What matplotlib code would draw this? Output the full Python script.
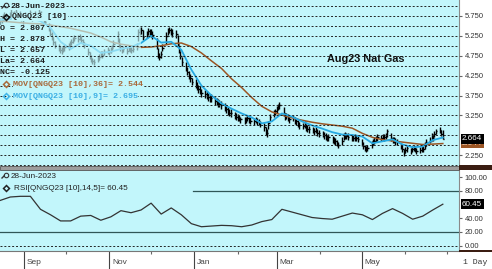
import pandas as pd
import matplotlib
matplotlib.use("Agg")
from matplotlib import pyplot as plt
from matplotlib import ticker
from matplotlib.patches import Rectangle
from matplotlib.lines import Line2D

plt.rcParams["font.family"] = ["Liberation Sans", "DejaVu Sans"]

W, H = 492, 269
BG = "#c2f6fb"
BROWN = "#9b5524"
CYAN = "#27a9e1"
MONO = "Liberation Mono"

# daily bars Aug 15 2022 -> Jun 28 2023, one row per month
close = [
    5.62, 5.68, 5.72, 5.75, 5.70, 5.78, 5.82, 5.74, 5.80, 5.85, 5.78, 5.70, 5.66,
    5.72, 5.78, 5.80, 5.76, 5.70, 5.74, 5.80, 5.85, 5.78, 5.72, 5.66, 5.60, 5.42, 5.30, 5.22, 5.10, 5.02, 4.95, 4.90, 4.88, 4.92, 4.96,
    4.98, 5.05, 5.10, 5.15, 5.20, 5.18, 5.22, 5.15, 5.10, 5.02, 4.85, 4.75, 4.68, 4.62, 4.60, 4.65, 4.72, 4.80, 4.78, 4.85, 4.88,
    4.85, 4.90, 4.95, 5.05, 5.30, 5.05, 4.95, 4.90, 4.92, 4.88, 4.95, 4.92, 4.90, 4.93, 4.98, 5.35, 5.38, 5.40, 5.22, 5.30, 5.36, 5.33,
    5.32, 5.28, 5.00, 4.80, 4.72, 4.80, 4.95, 5.25, 5.35, 5.40, 5.36, 5.32, 5.30, 5.05, 4.90, 4.75, 4.60, 4.45, 4.35, 4.25, 4.18, 4.10,
    4.05, 3.98, 3.92, 3.88, 3.82, 3.78, 3.75, 3.72, 3.70, 3.68, 3.62, 3.60, 3.56, 3.55, 3.52, 3.45, 3.40, 3.36, 3.32, 3.30, 3.25, 3.22,
    3.20, 3.18, 3.15, 3.12, 3.15, 3.18, 3.14, 3.12, 3.10, 3.14, 3.10, 3.08, 3.05, 2.95, 2.85, 2.80, 3.05, 3.20, 3.30, 3.35,
    3.40, 3.48, 3.50, 3.30, 3.22, 3.25, 3.20, 3.15, 3.18, 3.12, 3.10, 3.05, 3.00, 2.98, 3.02, 2.95, 2.92, 2.90, 2.88, 2.85, 2.88, 2.82, 2.80,
    2.78, 2.75, 2.72, 2.68, 2.70, 2.65, 2.62, 2.60, 2.55, 2.50, 2.62, 2.72, 2.75, 2.74, 2.72, 2.70, 2.68, 2.70, 2.68, 2.66,
    2.55, 2.48, 2.42, 2.40, 2.44, 2.52, 2.58, 2.62, 2.66, 2.70, 2.68, 2.72, 2.70, 2.74, 2.85, 2.68, 2.62, 2.65, 2.60, 2.58, 2.48, 2.40, 2.30,
    2.38, 2.42, 2.36, 2.40, 2.44, 2.40, 2.36, 2.38, 2.42, 2.40, 2.48, 2.58, 2.62, 2.72, 2.68, 2.78, 2.85, 2.88, 2.789, 2.664,
]
high = [
    5.70, 5.75, 5.80, 5.84, 5.79, 5.86, 5.92, 5.85, 5.88, 5.95, 5.88, 5.80, 5.74,
    5.80, 5.86, 5.90, 5.84, 5.78, 5.82, 5.88, 5.94, 5.88, 5.80, 5.74, 5.68, 5.58, 5.42, 5.34, 5.22, 5.12, 5.05, 5.00, 4.97, 5.00, 5.05,
    5.06, 5.12, 5.18, 5.22, 5.28, 5.26, 5.30, 5.24, 5.18, 5.10, 4.95, 4.84, 4.76, 4.70, 4.68, 4.74, 4.80, 4.88, 4.86, 4.92, 4.96,
    4.93, 4.98, 5.03, 5.14, 5.36, 5.20, 5.04, 4.98, 5.00, 4.96, 5.03, 5.00, 4.98, 5.01, 5.08, 5.42, 5.46, 5.48, 5.40, 5.38, 5.44, 5.42,
    5.42, 5.38, 5.20, 4.95, 4.82, 4.88, 5.04, 5.34, 5.44, 5.48, 5.45, 5.42, 5.40, 5.28, 5.02, 4.86, 4.72, 4.58, 4.46, 4.36, 4.28, 4.20,
    4.16, 4.08, 4.02, 3.98, 3.92, 3.88, 3.86, 3.82, 3.80, 3.78, 3.72, 3.70, 3.66, 3.64, 3.62, 3.56, 3.50, 3.46, 3.42, 3.40, 3.34, 3.32,
    3.28, 3.26, 3.22, 3.20, 3.22, 3.25, 3.22, 3.20, 3.18, 3.22, 3.18, 3.16, 3.12, 3.06, 2.95, 2.92, 3.12, 3.28, 3.38, 3.42,
    3.48, 3.55, 3.58, 3.45, 3.32, 3.32, 3.28, 3.24, 3.25, 3.20, 3.18, 3.14, 3.08, 3.06, 3.10, 3.04, 3.00, 2.98, 2.96, 2.94, 2.96, 2.92, 2.88,
    2.86, 2.84, 2.80, 2.76, 2.78, 2.74, 2.70, 2.68, 2.64, 2.58, 2.70, 2.80, 2.84, 2.82, 2.80, 2.78, 2.76, 2.78, 2.76, 2.74,
    2.66, 2.58, 2.50, 2.47, 2.50, 2.60, 2.66, 2.70, 2.73, 2.78, 2.76, 2.79, 2.78, 2.82, 2.92, 2.82, 2.70, 2.72, 2.68, 2.66, 2.57, 2.50, 2.40,
    2.46, 2.50, 2.44, 2.48, 2.52, 2.48, 2.44, 2.46, 2.50, 2.48, 2.58, 2.66, 2.70, 2.80, 2.78, 2.86, 2.92, 2.96, 2.88, 2.878,
]
low = [
    5.52, 5.58, 5.63, 5.66, 5.62, 5.68, 5.74, 5.66, 5.70, 5.76, 5.68, 5.62, 5.55,
    5.64, 5.70, 5.72, 5.68, 5.62, 5.66, 5.72, 5.76, 5.70, 5.64, 5.58, 5.50, 5.36, 5.24, 5.14, 5.02, 4.94, 4.87, 4.82, 4.80, 4.84, 4.88,
    4.90, 4.97, 5.02, 5.07, 5.12, 5.10, 5.14, 5.07, 5.02, 4.94, 4.78, 4.67, 4.60, 4.55, 4.52, 4.58, 4.64, 4.72, 4.70, 4.77, 4.80,
    4.77, 4.82, 4.87, 4.96, 5.10, 4.98, 4.87, 4.82, 4.84, 4.80, 4.87, 4.84, 4.82, 4.85, 4.90, 5.12, 5.28, 5.30, 5.15, 5.20, 5.26, 5.24,
    5.22, 5.18, 4.92, 4.70, 4.64, 4.70, 4.86, 5.05, 5.26, 5.31, 5.28, 5.23, 5.20, 5.00, 4.82, 4.66, 4.50, 4.36, 4.26, 4.16, 4.09, 4.02,
    3.94, 3.88, 3.82, 3.78, 3.72, 3.68, 3.66, 3.62, 3.60, 3.58, 3.52, 3.50, 3.46, 3.45, 3.42, 3.36, 3.31, 3.27, 3.23, 3.21, 3.16, 3.13,
    3.12, 3.10, 3.07, 3.04, 3.07, 3.10, 3.06, 3.04, 3.02, 3.06, 3.02, 3.00, 2.96, 2.86, 2.76, 2.72, 2.90, 3.10, 3.22, 3.27,
    3.32, 3.38, 3.40, 3.24, 3.14, 3.16, 3.12, 3.07, 3.10, 3.04, 3.02, 2.97, 2.92, 2.90, 2.94, 2.87, 2.84, 2.82, 2.80, 2.77, 2.80, 2.74, 2.72,
    2.70, 2.67, 2.64, 2.60, 2.62, 2.57, 2.54, 2.52, 2.47, 2.44, 2.52, 2.63, 2.67, 2.66, 2.64, 2.62, 2.60, 2.62, 2.60, 2.58,
    2.48, 2.40, 2.35, 2.33, 2.36, 2.44, 2.50, 2.54, 2.58, 2.62, 2.60, 2.64, 2.62, 2.66, 2.72, 2.62, 2.55, 2.57, 2.52, 2.50, 2.40, 2.32, 2.24,
    2.30, 2.34, 2.28, 2.32, 2.36, 2.32, 2.28, 2.30, 2.34, 2.32, 2.40, 2.48, 2.55, 2.64, 2.60, 2.70, 2.78, 2.80, 2.74, 2.657,
]

# indicators at evenly spaced points over the same span
mov36 = [5.62, 5.60, 5.58, 5.56, 5.55, 5.52, 5.48, 5.44, 5.38, 5.32, 5.22, 5.10, 5.04, 5.00, 4.96,
         4.97, 5.00, 5.05, 5.07, 4.98, 4.82, 4.62, 4.43, 4.17, 3.95, 3.70, 3.48, 3.34, 3.26, 3.19,
         3.13, 3.08, 3.04, 3.01, 2.98, 2.93, 2.80, 2.70, 2.64, 2.61, 2.58, 2.55, 2.52, 2.53, 2.544]
mov9 = [5.65, 5.68, 5.70, 5.70, 5.62, 5.45, 5.10, 4.92, 5.07, 5.00, 4.82, 4.85, 4.92, 4.97, 5.07,
        5.25, 5.08, 5.10, 4.90, 4.40, 4.00, 3.75, 3.55, 3.42, 3.30, 3.20, 3.05, 3.10, 3.30, 3.22,
        3.10, 3.00, 2.92, 2.83, 2.77, 2.76, 2.72, 2.55, 2.60, 2.65, 2.52, 2.45, 2.47, 2.63, 2.695]
rsi = [66, 71, 72, 72, 53, 45, 36, 36, 43, 44, 37, 42, 51, 48, 52,
       62, 46, 55, 45, 32, 27.5, 28.5, 29.5, 29, 27.5, 30, 35, 38, 53, 49,
       45, 41, 39.5, 38.5, 43, 47.5, 45, 38, 47, 54, 47, 38.5, 43, 52, 60.45]

# 2.750 and 60.00 sit under the value tags in the reference, so only their grid shows
price_ticks = [2.25, 3.25, 3.75, 4.25, 4.75, 5.25, 5.75]
rsi_ticks = [0, 20, 40, 80, 100]
month_labels = ["Sep", "Nov", "Jan", "Mar", "May"]
month_starts = ["2022-09-01", "2022-11-01", "2023-01-01", "2023-03-01", "2023-05-01"]
minor_starts = ["2022-10-01", "2022-12-01", "2023-02-01", "2023-04-01", "2023-06-01", "2023-07-01"]
ohlc_text = ["O = 2.807", "H = 2.878", "L = 2.657", "La= 2.664", "NC= -0.125"]
last_close, last_mov36, last_mov9, last_rsi = 2.664, 2.544, 2.695, 60.45

assert len(close) == len(high) == len(low)
dates = pd.bdate_range(end="2023-06-28", periods=len(close))
ma_dates = pd.date_range(dates[0], dates[-1], periods=len(mov36))
rsi_dates = pd.date_range(dates[0], dates[-1], periods=len(rsi))


def fx(x):
    return x / W


def fy(y):
    return 1 - y / H


fig = plt.figure(figsize=(W / 100, H / 100), dpi=100, facecolor="white")
ax = fig.add_axes([0, fy(166), fx(459), 166 / H], facecolor=BG)
ax2 = fig.add_axes([0, fy(251), fx(459), 81 / H], facecolor=BG, sharex=ax)

# price panel
ax.vlines(dates, low, high, color="black", lw=1.0, zorder=2)
ax.hlines(close, dates, dates + pd.Timedelta(days=1), color="black", lw=1.0, zorder=2)
ax.plot(ma_dates, mov36, color=BROWN, lw=1.1, zorder=2.1)
ax.plot(ma_dates, mov9, color=CYAN, lw=1.3, zorder=2.1)
ax.add_patch(Rectangle((0, 1 - 101 / 166), 141 / 459, 101 / 166, transform=ax.transAxes,
                       fc=BG, ec="none", alpha=0.66, zorder=2.3))

ax.set_xlim(pd.Timestamp("2022-08-14 20:00"), pd.Timestamp("2023-07-09 14:00"))
ax.set_ylim(1.98, 6.15)
ax.yaxis.tick_right()
ax.set_yticks(price_ticks)
ax.yaxis.set_major_formatter(ticker.FormatStrFormatter("%.3f"))
ax.yaxis.set_minor_locator(ticker.MultipleLocator(0.25))
ax.set_axisbelow(False)
ax.grid(True, axis="y", which="both", color="#222222", ls=(0, (2, 2)), lw=0.7)
ax.tick_params(axis="y", which="major", length=2.5, color="#666666", labelsize=5.5,
               labelcolor="#333333", pad=1.5)
ax.tick_params(axis="y", which="minor", length=0)
ax.tick_params(axis="x", which="both", bottom=False, labelbottom=False)

# rsi panel
ax2.plot(rsi_dates, rsi, color="#333333", lw=0.9)
ax2.axhline(80, xmin=193 / 459, color="#2f5656", lw=0.9)
ax2.axhline(20, color="#2f5656", lw=0.9)
ax2.axhline(0, color="#222222", ls=(0, (2, 2)), lw=0.7)
ax2.set_ylim(-8, 110.5)
ax2.yaxis.tick_right()
ax2.set_yticks(rsi_ticks)
ax2.yaxis.set_major_formatter(ticker.FormatStrFormatter("%.2f"))
ax2.tick_params(axis="y", length=2.5, color="#666666", labelsize=5.5,
                labelcolor="#333333", pad=1.5)
ax2.set_xticks(pd.to_datetime(month_starts))
ax2.set_xticks(pd.to_datetime(minor_starts), minor=True)
ax2.tick_params(axis="x", which="major", length=13, width=0.8, color="#444444", labelbottom=False)
ax2.tick_params(axis="x", which="minor", length=2.5, width=0.8, color="#666666")
for d, lab in zip(pd.to_datetime(month_starts), month_labels):
    ax2.annotate(lab, xy=(d, 0), xycoords=("data", "axes fraction"), xytext=(3, -12),
                 textcoords="offset pixels", ha="left", va="center", fontsize=6, color="#444444")

for a in (ax, ax2):
    for side in ("top", "left", "bottom"):
        a.spines[side].set_visible(False)
    a.spines["right"].set_color("#8a8a8a")
    a.spines["right"].set_linewidth(0.8)
ax2.spines["bottom"].set_visible(True)
ax2.spines["bottom"].set_color("#777777")

# value tags on the right scale
for a, val, fmt, fc, tc in [(ax, last_mov36, "%.3f", BROWN, "#f0d8c0"),
                            (ax, last_close, "%.3f", "black", "white"),
                            (ax2, last_rsi, "%.2f", "black", "white")]:
    a.annotate(fmt % val, xy=(1, val), xycoords=("axes fraction", "data"), xytext=(3, 0),
               textcoords="offset pixels", ha="left", va="center", fontsize=5.8, color=tc,
               bbox=dict(boxstyle="square,pad=0.18", fc=fc, ec="none"), annotation_clip=False)

# panel separator
fig.add_artist(Rectangle((0, fy(170)), fx(459), 4 / H, transform=fig.transFigure,
                         fc="#9d9d9d", ec="#555555", lw=0.6))
fig.add_artist(Rectangle((fx(459), fy(170)), 1 - fx(459), 5 / H, transform=fig.transFigure,
                         fc="#3b1d12", ec="none"))
fig.add_artist(Rectangle((fx(459), fy(252)), 1 - fx(459), 1.6 / H, transform=fig.transFigure,
                         fc="#3b1d12", ec="none"))


def label(x, y, s, boxed=False, **kw):
    if boxed:
        kw["bbox"] = dict(boxstyle="square,pad=0.05", fc=BG, ec="none")
    fig.text(fx(x), fy(y), s, va="center", ha="left", zorder=10, **kw)


def magnifier(x, y):
    fig.add_artist(Line2D([fx(x)], [fy(y)], marker="o", ms=3.2, mfc="none", mec="#333333",
                          mew=0.8, ls="none", zorder=11))
    fig.add_artist(Line2D([fx(x - 3.5), fx(x - 1.3)], [fy(y + 3.5), fy(y + 1.3)],
                          color="#333333", lw=1.0, zorder=11))


def diamond(x, y, color):
    fig.add_artist(Line2D([fx(x)], [fy(y)], marker="D", ms=3, mfc="none", mec=color,
                          mew=1.1, ls="none", zorder=11))


# price legend
mono = dict(family=MONO, fontsize=6, fontweight="bold", boxed=True)
magnifier(5.5, 4.5)
label(10, 6, "28-Jun-2023", color="#1a1a1a", **mono)
diamond(6, 16.5, "#111111")
label(12.5, 17, "QNGQ23 [10]", color="#1a1a1a", **mono)
for i, s in enumerate(ohlc_text):
    label(0.5, 28.5 + 11 * i, s, color="#1a1a1a", **mono)
diamond(5.5, 84, "#a86a3a")
label(13, 84, "MOV[QNGQ23 [10],36]= %.3f" % last_mov36, color="#a8683a", **mono)
diamond(5.5, 96, "#3fb4e8")
label(13, 96, "MOV[QNGQ23 [10],9]= %.3f" % last_mov9, color="#3aaee4", **mono)
label(327, 58.5, "Aug23 Nat Gas", fontsize=7.8, fontweight="bold", color="#111111")

# rsi legend
magnifier(5.5, 174.5)
label(11, 176.5, "28-Jun-2023", fontsize=5.9, color="#222222")
diamond(6, 188, "#222222")
label(13.5, 188, "RSI[QNGQ23 [10],14,5]= %.2f" % last_rsi, fontsize=5.9, color="#222222")

label(463, 263, "1 Day", family=MONO, fontsize=5.9, color="#333333")

fig.savefig("out.png", dpi=100, facecolor="white")
